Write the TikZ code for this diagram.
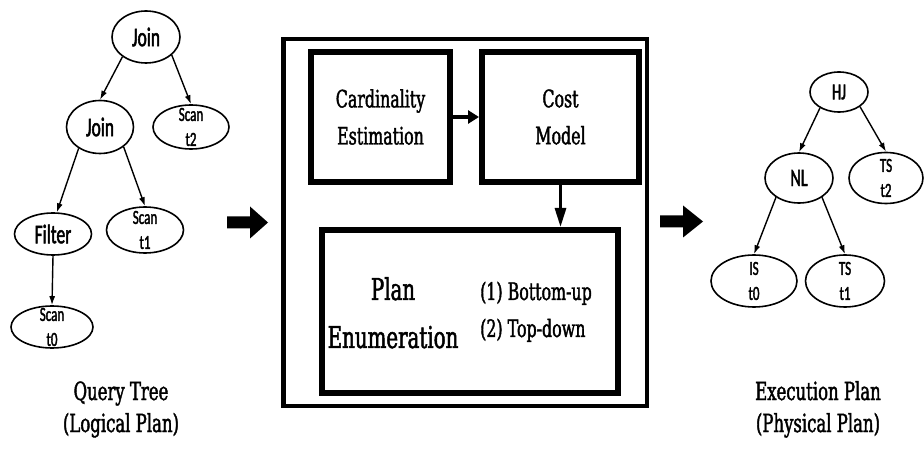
\documentclass[tikz,border=0pt]{standalone}
\usepackage{fontspec}
\setmainfont{DejaVu Serif}[FakeStretch=0.66,FakeBold=1.6]
\newfontfamily\treefont{Carlito}[FakeStretch=0.65,FakeBold=1.8]
\usetikzlibrary{shapes.geometric,arrows.meta}

\begin{document}
\begin{tikzpicture}[x=1pt,y=-1pt,
  opnode/.style={ellipse,draw,line width=1.6pt,inner sep=0pt,
    font=\treefont\fontsize{27}{30}\selectfont},
  leafnode/.style={ellipse,draw,line width=1.6pt,inner sep=0pt},
  leaftext/.style={align=center,inner sep=0pt,
    font=\treefont\fontsize{20}{25}\selectfont},
  treeedge/.style={line width=1.4pt,-{Latex[length=9pt,width=6pt]}},
  stagebox/.style={draw,line width=6pt,inner sep=0pt,align=center,
    font=\fontsize{24}{37}\selectfont},
  caption/.style={anchor=base,inner sep=0pt,font=\fontsize{25}{30}\selectfont},
  blockarrow/.style={fill=black}
]
\useasboundingbox[fill=white] (0,0) rectangle (924,454);

% ---------- logical query tree ----------
\node[opnode,minimum width=68pt,minimum height=52pt] (j1) at (146,37) {Join};
\node[opnode,minimum width=67pt,minimum height=53pt] (j2) at (100,127) {Join};
\node[leafnode,minimum width=76pt,minimum height=44pt] (s2) at (191,127) {};
\node[leaftext] (s2t) at (s2) {Scan\\t2};
\node[opnode,minimum width=77pt,minimum height=42pt] (flt) at (53,234) {Filter};
\node[leafnode,minimum width=77pt,minimum height=46pt] (s1) at (145,230) {};
\node[leaftext] (s1t) at (s1) {Scan\\t1};
\node[leafnode,minimum width=82pt,minimum height=42pt] (s0) at (52,327) {};
\node[leaftext] (s0t) at (s0) {Scan\\t0};

\draw[treeedge] (j1.220) -- (j2.north);
\draw[treeedge] (j1.325) -- (s2.north);
\draw[treeedge] (j2.225) -- (flt.80);
\draw[treeedge] (j2.320) -- (s1.north);
\draw[treeedge] (flt.south) -- (s0.north);

\node[caption] (qt1) at (121,400) {Query Tree};
\node[caption] (qt2) at (121,432) {(Logical Plan)};

% ---------- arrow into the optimizer ----------
\fill[blockarrow] (227,216.5) -- (250,216.5) -- (250,206.5) -- (268,222.5)
  -- (250,238.5) -- (250,228.5) -- (227,228.5) -- cycle;

% ---------- optimizer ----------
\node[draw,line width=4.5pt,inner sep=0pt,minimum width=363.5pt,
  minimum height=366.5pt] (opt) at (465,222.5) {};
\node[stagebox,minimum width=139pt,minimum height=130pt] (card) at (380.5,117)
  {Cardinality\\Estimation};
\node[stagebox,minimum width=157pt,minimum height=130pt] (cost) at (560.5,117)
  {Cost\\Model};
\node[stagebox,minimum width=296pt,minimum height=163pt] (plan) at (470,311.5) {};

\node[anchor=base,inner sep=0pt,font=\fontsize{30}{36}\selectfont] (pe1) at (393,300) {Plan};
\node[anchor=base,inner sep=0pt,font=\fontsize{30}{36}\selectfont] (pe2) at (393,348) {Enumeration};
\node[anchor=base west,inner sep=0pt,font=\fontsize{24}{30}\selectfont] (m1) at (480,300) {(1) Bottom-up};
\node[anchor=base west,inner sep=0pt,font=\fontsize{24}{30}\selectfont] (m2) at (480,337) {(2) Top-down};

\draw[line width=4pt,-{Triangle[length=11pt,width=13pt]}] (card.east) -- (cost.west);
\draw[line width=3pt,-{Triangle[length=19pt,width=11pt]}] (cost.south) -- (cost.south |- plan.north);

% ---------- arrow out of the optimizer ----------
\fill[blockarrow] (660,215.5) -- (683,215.5) -- (683,205.5) -- (703,221.5)
  -- (683,237.5) -- (683,227.5) -- (660,227.5) -- cycle;

% ---------- physical execution plan ----------
\node[opnode,minimum width=58pt,minimum height=40pt,
  font=\treefont\fontsize{23}{28}\selectfont] (hj) at (839,92) {HJ};
\node[opnode,minimum width=68pt,minimum height=50pt,
  font=\treefont\fontsize{25}{30}\selectfont] (nl) at (799,178) {NL};
\node[leafnode,minimum width=74pt,minimum height=51pt] (ts2) at (886,178) {};
\node[leaftext] (ts2t) at (ts2) {TS\\t2};
\node[leafnode,minimum width=86pt,minimum height=52pt] (is0) at (754,281) {};
\node[leaftext] (is0t) at (is0) {IS\\t0};
\node[leafnode,minimum width=79pt,minimum height=52pt] (ts1) at (845,281) {};
\node[leaftext] (ts1t) at (ts1) {TS\\t1};

\draw[treeedge] (hj.220) -- (nl.north);
\draw[treeedge] (hj.325) -- (ts2.north);
\draw[treeedge] (nl.220) -- (is0.north);
\draw[treeedge] (nl.320) -- (ts1.north);

\node[caption] (ep1) at (818,400) {Execution Plan};
\node[caption] (ep2) at (818,432) {(Physical Plan)};
\end{tikzpicture}
\end{document}
